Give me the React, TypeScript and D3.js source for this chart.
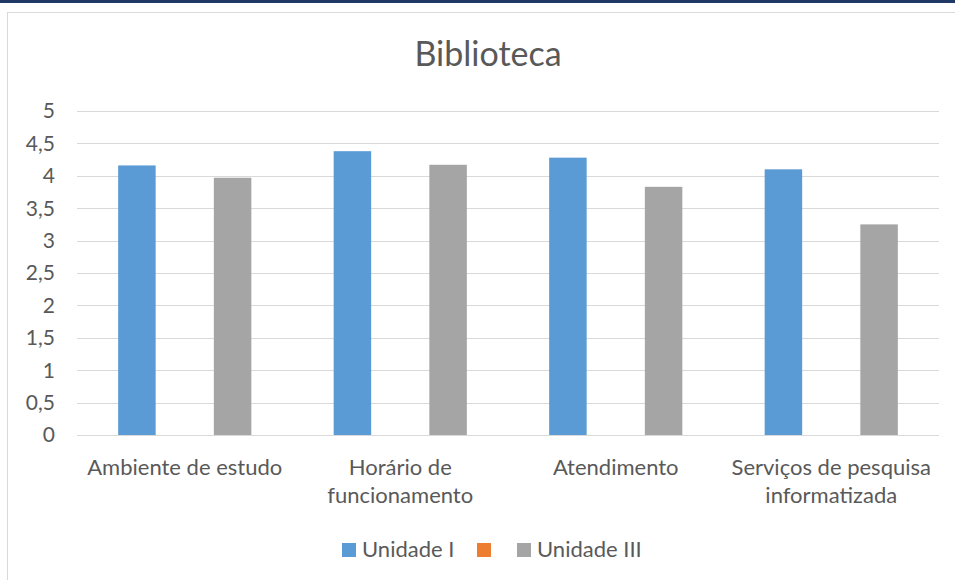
import React from 'react'
import * as d3 from 'd3'

const categories = [
  ['Ambiente de estudo'],
  ['Horário de', 'funcionamento'],
  ['Atendimento'],
  ['Serviços de pesquisa', 'informatizada'],
]
const seriesNames = ['Unidade I', '', 'Unidade III']
const unidadeI = [4.16, 4.38, 4.28, 4.1]
const unidadeII = [0, 0, 0, 0]
const unidadeIII = [3.97, 4.17, 3.83, 3.25]
const yTicks = [0, 0.5, 1, 1.5, 2, 2.5, 3, 3.5, 4, 4.5, 5]
const colors = ['#5b9bd5', '#ed7d31', '#a5a5a5']

const font = 'Lato, "Open Sans", sans-serif'
const textColor = '#595959'

export default function App() {
  const W = 955
  const H = 580
  const plot = { left: 77, right: 939, top: 111, bottom: 435 }

  const x = d3.scaleBand<number>()
    .domain(categories.map((_, i) => i))
    .range([plot.left, plot.right])
  const y = d3.scaleLinear().domain([0, 5]).range([plot.bottom, plot.top])

  const series = [unidadeI, unidadeII, unidadeIII]
  const barW = x.bandwidth() * 0.174
  const step = x.bandwidth() * 0.222

  const fmt = (v: number) => String(v).replace('.', ',')

  return (
    <svg width={W} height={H} style={{ position: 'absolute', left: 0, top: 0 }} fontFamily={font}>
      <rect x={0} y={0} width={W} height={H} fill="#fff" />
      <rect x={0} y={0} width={W} height={3} fill="#1f3864" />
      <rect x={7.5} y={12.5} width={W + 10} height={H} fill="#fff" stroke="#d9d9d9" strokeWidth={1} />

      <text x={488} y={66} textAnchor="middle" fontSize={34} fill={textColor}>Biblioteca</text>

      {yTicks.map(t => (
        <g key={t}>
          <line x1={plot.left} x2={plot.right} y1={Math.round(y(t)) + 0.5} y2={Math.round(y(t)) + 0.5}
            stroke="#d9d9d9" strokeWidth={1} />
          <text x={55} y={y(t)} dy="0.35em" textAnchor="end" fontSize={21} fill={textColor}>{fmt(t)}</text>
        </g>
      ))}

      {series.map((vals, s) =>
        vals.map((v, i) => {
          const cx = (x(i) as number) + x.bandwidth() / 2 + (s - 1) * step
          return v > 0 ? (
            <rect key={`${s}-${i}`} x={cx - barW / 2} y={y(v)} width={barW}
              height={y(0) - y(v)} fill={colors[s]} />
          ) : null
        })
      )}

      {categories.map((lines, i) => (
        <text key={i} textAnchor="middle" fontSize={22} fill={textColor}>
          {lines.map((l, j) => (
            <tspan key={j} x={(x(i) as number) + x.bandwidth() / 2} y={475 + j * 28}>{l}</tspan>
          ))}
        </text>
      ))}

      {/* legend */}
      {[
        { x: 342, tx: 362 },
        { x: 477, tx: 0 },
        { x: 517, tx: 537 },
      ].map((p, s) => (
        <g key={s}>
          <rect x={p.x} y={543} width={14} height={14} fill={colors[s]} />
          {seriesNames[s] && (
            <text x={p.tx} y={557} fontSize={22} fill={textColor}>{seriesNames[s]}</text>
          )}
        </g>
      ))}
    </svg>
  )
}
